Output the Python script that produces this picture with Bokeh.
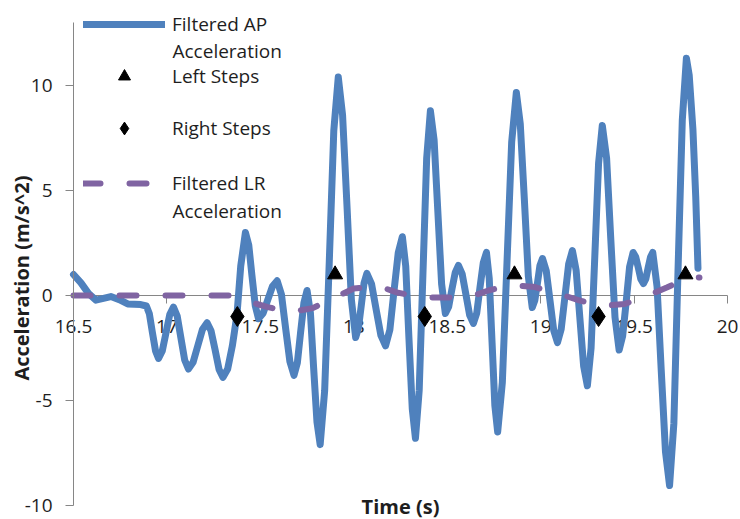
import numpy as np
from bokeh.plotting import figure
from bokeh.models import Range1d, FixedTicker, Legend, LegendItem, Label
from bokeh.embed import file_html
from bokeh.resources import INLINE

# Filtered anterior-posterior acceleration (m/s^2) against time (s)
ap_time = [
    16.50, 16.54, 16.58, 16.62, 16.66, 16.70, 16.745, 16.79, 16.86, 16.89,
    16.906, 16.922, 16.939, 16.955, 16.975, 16.995, 17.015, 17.035, 17.055, 17.075,
    17.095, 17.115, 17.14, 17.165, 17.19, 17.215, 17.236, 17.258, 17.279, 17.30,
    17.325, 17.35, 17.375, 17.395, 17.42, 17.438, 17.455, 17.473, 17.49, 17.515,
    17.54, 17.565, 17.59, 17.613, 17.635, 17.658, 17.68, 17.698, 17.715, 17.733,
    17.75, 17.768, 17.785, 17.803, 17.82, 17.844, 17.869, 17.893, 17.917, 17.94,
    17.964, 17.987, 18.01, 18.025, 18.04, 18.055, 18.07, 18.095, 18.12, 18.145,
    18.17, 18.193, 18.215, 18.238, 18.26, 18.278, 18.295, 18.313, 18.33, 18.35,
    18.37, 18.39, 18.41, 18.43, 18.45, 18.47, 18.49, 18.508, 18.525, 18.543,
    18.56, 18.58, 18.60, 18.62, 18.64, 18.658, 18.675, 18.693, 18.71, 18.725,
    18.74, 18.755, 18.77, 18.795, 18.82, 18.845, 18.87, 18.891, 18.913, 18.934,
    18.955, 18.969, 18.983, 18.996, 19.01, 19.03, 19.05, 19.07, 19.09, 19.11,
    19.13, 19.15, 19.17, 19.19, 19.21, 19.23, 19.25, 19.27, 19.29, 19.31,
    19.33, 19.353, 19.375, 19.398, 19.42, 19.439, 19.458, 19.476, 19.495, 19.509,
    19.523, 19.536, 19.55, 19.563, 19.575, 19.588, 19.60, 19.623, 19.645, 19.668,
    19.69, 19.713, 19.735, 19.758, 19.78, 19.795, 19.815, 19.83, 19.842,
]
ap_accel = [
    1.0, 0.6, 0.1, -0.22, -0.14, -0.05, -0.2, -0.4, -0.43, -0.5,
    -0.87, -1.75, -2.64, -3.0, -2.64, -1.78, -0.91, -0.55, -0.98, -2.03,
    -3.07, -3.5, -3.18, -2.4, -1.62, -1.3, -1.68, -2.6, -3.52, -3.9,
    -3.5, -2.4, -0.9, 1.4, 3.0, 2.4, 0.95, -0.5, -1.1, -0.84,
    -0.2, 0.44, 0.7, 0.04, -1.55, -3.14, -3.8, -3.21, -1.78, -0.35,
    0.24, -0.83, -3.43, -6.03, -7.1, -4.55, 1.65, 7.85, 10.4, 8.59,
    4.2, -0.19, -2.0, -1.55, -0.48, 0.6, 1.05, 0.55, -0.68, -1.9,
    -2.4, -1.64, 0.2, 2.04, 2.8, 1.4, -2.0, -5.4, -6.8, -4.52,
    1.0, 6.52, 8.8, 7.39, 3.97, 0.55, -0.86, -0.53, 0.29, 1.1,
    1.43, 1.03, 0.05, -0.93, -1.33, -0.84, 0.36, 1.56, 2.05, 0.8,
    -2.23, -5.25, -6.5, -4.14, 1.59, 7.31, 9.67, 8.17, 4.55, 0.93,
    -0.57, -0.23, 0.6, 1.42, 1.76, 1.18, -0.24, -1.66, -2.24, -1.6,
    -0.05, 1.5, 2.14, 1.2, -1.08, -3.36, -4.3, -2.49, 1.9, 6.29,
    8.1, 6.54, 2.75, -1.04, -2.6, -1.92, -0.28, 1.37, 2.05, 1.83,
    1.31, 0.79, 0.57, 0.79, 1.31, 1.83, 2.05, 0.43, -3.5, -7.43,
    -9.05, -6.08, 1.13, 8.33, 11.3, 10.5, 7.9, 4.7, 1.3,
]

# Filtered left-right acceleration (m/s^2)
lr_time = [
    16.50, 17.35, 17.42, 17.54, 17.66, 17.78, 17.885, 18.00, 18.13, 18.23,
    18.36, 18.49, 18.61, 18.72, 18.85, 18.97, 19.09, 19.21, 19.33, 19.45,
    19.575, 19.675, 19.78, 19.85,
]
lr_accel = [
    0.0, 0.0, -0.25, -0.55, -0.8, -0.6, -0.15, 0.33, 0.45, 0.15,
    -0.1, -0.1, -0.1, 0.24, 0.5, 0.4, 0.1, -0.24, -0.5, -0.4,
    0.0, 0.38, 0.8, 0.86,
]

# Detected steps
left_step_time = [17.90, 18.86, 19.775]
left_step_accel = [1.0, 1.0, 1.0]
right_step_time = [17.377, 18.38, 19.31]
right_step_accel = [-1.0, -1.0, -1.0]

x_ticks = [16.5, 17, 17.5, 18, 18.5, 19, 19.5, 20]
x_tick_labels = ["16.5", "17", "17.5", "18", "18.5", "19", "19.5", "20"]
y_ticks = [-10, -5, 0, 5, 10]
y_tick_labels = ["-10", "-5", "0", "5", "10"]
y_axis_max = 13

FONT = "Open Sans"
TEXT = "#1e1e1e"
AXIS = "#868686"
BLUE = "#4F81BD"
PURPLE = "#8064A2"

W, H = 740, 519
# pixel box of the axes inside the canvas
AX_L, AX_R, AX_T, AX_B = 73, 727, 22, 505

x0, x1 = x_ticks[0], x_ticks[-1]
y0, y1 = y_ticks[0], y_axis_max
sx = (AX_R - AX_L) / (x1 - x0)
sy = (AX_B - AX_T) / (y1 - y0)
x_range = Range1d(x0 - AX_L / sx, x1 + (W - AX_R) / sx)
y_range = Range1d(y0 - (H - AX_B) / sy, y1 + AX_T / sy)

p = figure(
    width=W, height=H, x_range=x_range, y_range=y_range,
    output_backend="svg", toolbar_location=None,
    min_border=0,
)
p.grid.visible = False
p.outline_line_color = None
p.background_fill_color = "white"
p.border_fill_color = "white"

# x axis crosses at zero, y axis sits at the first time tick
xax = p.xaxis[0]
xax.fixed_location = 0
xax.bounds = (x0, x1)
xax.ticker = FixedTicker(ticks=x_ticks)
xax.major_label_overrides = {t: s for t, s in zip(x_ticks, x_tick_labels)}
xax.major_tick_in = 0
xax.major_tick_out = 8
xax.major_label_standoff = 16
xax.level = "underlay"

yax = p.yaxis[0]
yax.fixed_location = x0
yax.bounds = (y0, y1)
yax.ticker = FixedTicker(ticks=y_ticks)
yax.major_label_overrides = {t: s for t, s in zip(y_ticks, y_tick_labels)}
yax.major_tick_in = 0
yax.major_tick_out = 8
yax.major_label_standoff = 13

for ax in (xax, yax):
    ax.minor_tick_line_color = None
    ax.axis_line_color = AXIS
    ax.major_tick_line_color = AXIS
    ax.major_label_text_font = FONT
    ax.major_label_text_font_size = "19px"
    ax.major_label_text_color = TEXT

ap = p.line(ap_time, ap_accel, line_color=BLUE, line_width=7, line_join="round", line_cap="round")
lr = p.line(lr_time, lr_accel, line_color=PURPLE, line_width=6, line_dash="17 29", line_cap="round")
left = p.scatter(left_step_time, left_step_accel, marker="triangle", size=15,
                 fill_color="black", line_color="black")
right = p.scatter(right_step_time, right_step_accel, marker="diamond", size=20,
                  fill_color="black", line_color="black")

# legend, one box per entry: (label, renderer, bottom edge in px from the canvas bottom, glyph height)
rows = [("Filtered AP", ap, 482, 20), ("Left Steps", left, 428, 30),
        ("Right Steps", right, 375, 32), ("Filtered LR", lr, 323, 20)]
for label, rend, bottom, gh in rows:
    lg = Legend(
        items=[LegendItem(label=label, renderers=[rend])],
        location=(AX_L + 10, bottom),
        padding=0, margin=0, spacing=0,
        glyph_width=82, glyph_height=gh, label_height=20, label_standoff=7,
        label_text_font=FONT, label_text_font_size="19px", label_text_color=TEXT,
        border_line_alpha=0, background_fill_alpha=0,
    )
    p.add_layout(lg)

for yy in (H - 50, H - 210):
    p.add_layout(Label(x=172, y=yy, x_units="screen", y_units="screen", text="Acceleration",
                       text_font=FONT, text_font_size="19px", text_color=TEXT,
                       text_align="left", text_baseline="middle"))

# axis titles
p.add_layout(Label(x=x0, y=0.83, x_offset=-52, text="Acceleration (m/s^2)", angle=np.pi / 2,
                   text_font=FONT, text_font_size="20px", text_font_style="bold", text_color=TEXT,
                   text_align="center", text_baseline="middle"))
p.add_layout(Label(x=(x0 + x1) / 2, y=y0, y_offset=-1, text="Time (s)",
                   text_font=FONT, text_font_size="20px", text_font_style="bold", text_color=TEXT,
                   text_align="center", text_baseline="middle"))

open("out.html", "w").write(file_html(p, INLINE))
